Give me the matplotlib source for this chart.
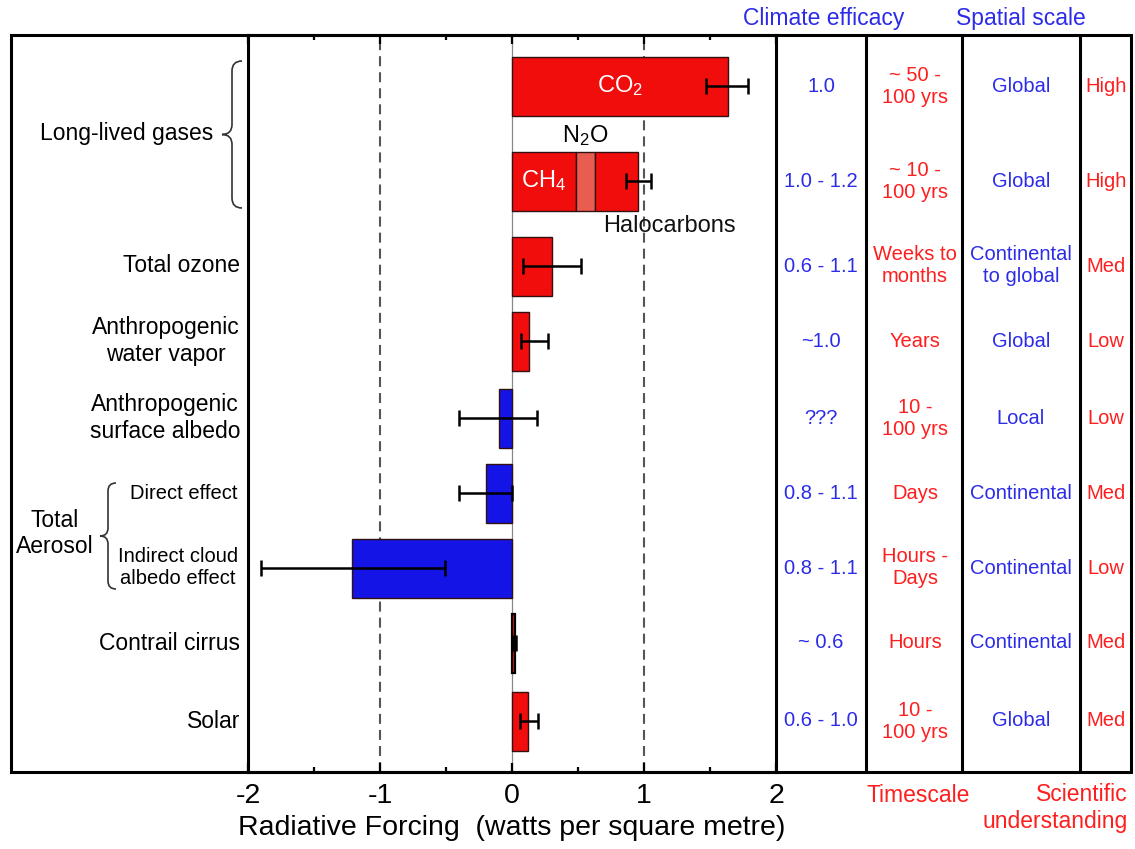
import matplotlib
matplotlib.use("Agg")
import matplotlib.pyplot as plt
from matplotlib.path import Path
from matplotlib.patches import PathPatch, Rectangle

# ---- data ----
co2 = 1.64
ch4, n2o, halocarbons = 0.485, 0.145, 0.325
other_labels = ["Total ozone", "Anthropogenic\nwater vapor", "Anthropogenic\nsurface albedo",
                "Direct effect", "Indirect cloud\nalbedo effect", "Contrail cirrus", "Solar"]
other_forcing = [0.30, 0.13, -0.10, -0.20, -1.21, 0.02, 0.12]

forcing = [co2, ch4 + n2o + halocarbons] + other_forcing
err_low = [1.47, 0.86, 0.08, 0.07, -0.40, -0.40, -1.90, 0.005, 0.06]
err_high = [1.79, 1.05, 0.52, 0.27, 0.19, 0.00, -0.51, 0.03, 0.20]

efficacy = ["1.0", "1.0 - 1.2", "0.6 - 1.1", "~1.0", "???", "0.8 - 1.1", "0.8 - 1.1", "~ 0.6", "0.6 - 1.0"]
timescale = ["~ 50 -\n100 yrs", "~ 10 -\n100 yrs", "Weeks to\nmonths", "Years", "10 -\n100 yrs",
             "Days", "Hours -\nDays", "Hours", "10 -\n100 yrs"]
spatial = ["Global", "Global", "Continental\nto global", "Global", "Local",
           "Continental", "Continental", "Continental", "Global"]
understanding = ["High", "High", "Med", "Low", "Low", "Med", "Low", "Med", "Med"]

x_ticks = [-2, -1, 0, 1, 2]
x_minor = [-1.5, -0.5, 0.5, 1.5]

# ---- layout (figure pixels, y downwards) ----
W, H = 1135, 849
row_y = [86, 181, 266, 341, 418, 493, 568, 643, 721]
bar_h = 59
box_left, box_right, box_top, box_bottom = 10.5, 1131, 35, 772
ax_left, ax_right = 248, 776
col_lines = [866, 962, 1080]
col_x = {"eff": 821, "time": 915, "space": 1021, "sci": 1106}

RED = "#F20D0D"
BLUE = "#1414E6"
N2O_RED = "#E95C50"
TXT_RED = "#FF1E1E"
TXT_BLUE = "#2B2BE8"

plt.rcParams["font.family"] = ["Liberation Sans", "DejaVu Sans"]
plt.rcParams["mathtext.fontset"] = "custom"
plt.rcParams["mathtext.rm"] = "Liberation Sans"
plt.rcParams["mathtext.it"] = "Liberation Sans"
plt.rcParams["axes.unicode_minus"] = False

fig = plt.figure(figsize=(W / 100, H / 100), dpi=100, facecolor="white")

# overlay in pixel units for the table frame, braces and side text
ov = fig.add_axes([0, 0, 1, 1], zorder=0)
ov.set_xlim(0, W)
ov.set_ylim(H, 0)
ov.axis("off")

ax = fig.add_axes([ax_left / W, (H - box_bottom) / H, (ax_right - ax_left) / W,
                   (box_bottom - box_top) / H], zorder=1)
ax.set_facecolor("none")
ax.set_xlim(-2, 2)
ax.set_ylim(box_bottom, box_top)

# reference lines
for v in (-1, 1):
    ax.axvline(v, color="#555555", lw=1.5, ls=(0, (4.8, 2.9)), zorder=1)
ax.axvline(0, color="#888888", lw=0.9, zorder=1)

# bars
edge = "#331111"
ax.barh(row_y[0], co2, height=bar_h, color=RED, edgecolor=edge, lw=1, zorder=2)
ax.barh(row_y[1], ch4, height=bar_h, color=RED, edgecolor=edge, lw=1, zorder=2)
ax.barh(row_y[1], n2o, left=ch4, height=bar_h, color=N2O_RED, edgecolor=edge, lw=1, zorder=2)
ax.barh(row_y[1], halocarbons, left=ch4 + n2o, height=bar_h, color=RED, edgecolor=edge, lw=1, zorder=2)
for y, v in zip(row_y[2:], other_forcing):
    thin = abs(v) < 0.05  # contrails: bar narrower than its outline
    ax.barh(y, v, height=bar_h, color=RED if v > 0 else BLUE,
            edgecolor="black" if thin else edge, lw=1.6 if thin else 1, zorder=2)

xerr = [[f - lo for f, lo in zip(forcing, err_low)],
        [hi - f for f, hi in zip(forcing, err_high)]]
ax.errorbar(forcing, row_y, xerr=xerr, fmt="none", ecolor="black", elinewidth=1.8,
            capsize=5.5, capthick=1.8, zorder=3)

# labels on the greenhouse gas bars
ax.text(co2 / 2, row_y[0], "CO$_2$", color="white", fontsize=17, ha="center", va="center", zorder=4)
ax.text(ch4 / 2, row_y[1], "CH$_4$", color="white", fontsize=17, ha="center", va="center", zorder=4)
ax.text(ch4 + n2o / 2, row_y[1] - bar_h / 2 - 4, "N$_2$O", color="black", fontsize=17,
        ha="center", va="bottom", zorder=4)
ax.text(ch4 + n2o + 0.06, row_y[1] + bar_h / 2 + 15, "Halocarbons", color="#111111",
        fontsize=17, ha="left", va="center", zorder=4)

# axis styling
ax.set_xticks(x_ticks)
ax.set_xticklabels([str(t) for t in x_ticks])
ax.set_xticks(x_minor, minor=True)
ax.set_yticks([])
ax.tick_params(axis="x", which="both", direction="in", top=True, bottom=True, width=1.6)
ax.tick_params(axis="x", which="major", length=6.5, labelsize=20.5, pad=8)
ax.tick_params(axis="x", which="minor", length=3.8)
for s in ax.spines.values():
    s.set_linewidth(2.2)
ax.set_xlabel("Radiative Forcing  (watts per square metre)", fontsize=20.5, labelpad=4)

# outer frame and table columns
ov.add_patch(Rectangle((box_left, box_top), box_right - box_left, box_bottom - box_top,
                       fill=False, lw=2.2, ec="black"))
ov.vlines(col_lines, box_top, box_bottom, color="black", lw=2.2)


def curly_brace(axis, x, y0, y1, d):
    ym = (y0 + y1) / 2
    verts = [(x + d, y0), (x, y0), (x, y0 + d), (x, ym - d), (x, ym), (x - d, ym),
             (x, ym), (x, ym + d), (x, y1 - d), (x, y1), (x + d, y1)]
    codes = [Path.MOVETO, Path.CURVE3, Path.CURVE3, Path.LINETO, Path.CURVE3, Path.CURVE3,
             Path.CURVE3, Path.CURVE3, Path.LINETO, Path.CURVE3, Path.CURVE3]
    axis.add_patch(PathPatch(Path(verts, codes), fill=False, lw=1.2, ec="#333333"))


curly_brace(ov, 232, 61, 208, 10)
curly_brace(ov, 108, 483, 589, 8)

# row labels on the left
ov.text(213, (row_y[0] + row_y[1]) / 2, "Long-lived gases", fontsize=16.5, ha="right", va="center")
ov.text(55, (row_y[5] + row_y[6]) / 2 + 3, "Total\nAerosol", fontsize=16.5, ha="center",
        va="center", multialignment="center")
for y, lab in zip(row_y[2:], other_labels):
    if lab in ("Direct effect", "Indirect cloud\nalbedo effect"):
        ov.text(238, y, lab, fontsize=14.5, ha="right", va="center", multialignment="center")
    else:
        ov.text(240, y, lab, fontsize=16.5, ha="right", va="center", multialignment="center")

# table columns
for y, e, t, s, u in zip(row_y, efficacy, timescale, spatial, understanding):
    ov.text(col_x["eff"], y, e, fontsize=14.5, color=TXT_BLUE, ha="center", va="center")
    ov.text(col_x["time"], y, t, fontsize=14.5, color=TXT_RED, ha="center", va="center",
            multialignment="center")
    ov.text(col_x["space"], y, s, fontsize=14.5, color=TXT_BLUE, ha="center", va="center",
            multialignment="center")
    ov.text(col_x["sci"], y, u, fontsize=14.5, color=TXT_RED, ha="center", va="center")

# column headers
ov.text(824, 18, "Climate efficacy", fontsize=16.5, color=TXT_BLUE, ha="center", va="center")
ov.text(1021, 18, "Spatial scale", fontsize=16.5, color=TXT_BLUE, ha="center", va="center")
ov.text(918, 795, "Timescale", fontsize=16.5, color=TXT_RED, ha="center", va="center")
ov.text(1128, 808, "Scientific\nunderstanding", fontsize=16.5, color=TXT_RED, ha="right",
        va="center", multialignment="right")

fig.savefig("out.png", dpi=100, facecolor="white")
